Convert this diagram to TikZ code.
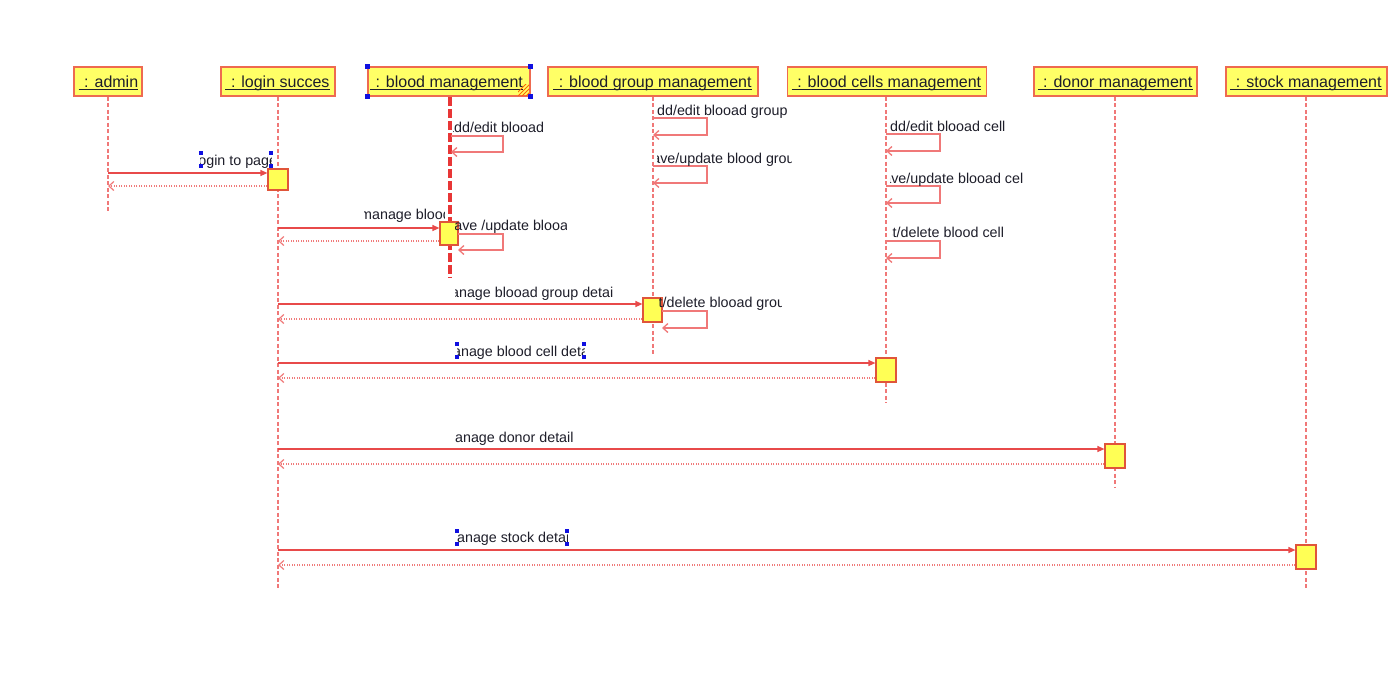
\documentclass[tikz,border=0pt]{standalone}
\usepackage{fontspec}
\usetikzlibrary{arrows.meta}
\newfontfamily\lsans{Liberation Sans}
\definecolor{hdrfill}{HTML}{FFFF66}
\definecolor{hdrdraw}{HTML}{EE6A50}
\definecolor{lifec}{HTML}{F07878}
\definecolor{msgc}{HTML}{E84A4A}
\definecolor{thickc}{HTML}{E83636}
\definecolor{retc}{HTML}{F07A7A}
\definecolor{actfill}{HTML}{FFFF55}
\definecolor{actdraw}{HTML}{E0553A}
\definecolor{txtc}{HTML}{1E1E2A}
\definecolor{handc}{HTML}{1010E0}
\tikzset{
  hdr/.style={draw=hdrdraw, line width=1.6pt, fill=hdrfill, minimum height=29, inner sep=0pt, text=txtc, font=\lsans\fontsize{16}{18}\selectfont},
  lifeline/.style={draw=lifec, line width=1.3pt, dash pattern=on 4pt off 2.5pt},
  thicklife/.style={draw=thickc, line width=3.2pt, dash pattern=on 9pt off 3pt},
  actbox/.style={draw=actdraw, line width=1.2pt, fill=actfill, inner sep=0pt},
  syncmsg/.style={draw=msgc, line width=1.2pt, -{Triangle[length=7pt,width=6pt]}},
  retmsg/.style={draw=retc, line width=1.2pt, dash pattern=on 1.3pt off 1.2pt, -{Straight Barb[length=5pt,width=9pt]}},
  selfmsg/.style={draw=lifec, line width=1.3pt, -{Straight Barb[length=5pt,width=9pt]}},
  lbl/.style={inner sep=0pt, text=txtc, font=\lsans\fontsize{14.3}{16}\selectfont},
  handle/.style={fill=handc, draw=none, minimum size=4pt, inner sep=0pt}
}
% #1 clip left, #2 clip right, #3 centre y, #4 text start x, #5 text, #6 name
\newcommand\msglabel[6]{%
  \begin{scope}
    \clip (#1,#3-9) rectangle (#2,#3+9);
    \node[lbl, anchor=base west] (#6) at (#4,#3+5) {#5};
  \end{scope}}
\newcommand\hdrline[1]{%
  \draw[txtc, line width=0.8pt] ([xshift=-1pt,yshift=-2pt]#1.base west) -- ([yshift=-2pt]#1.base east);}
\begin{document}
\begin{tikzpicture}[x=1pt,y=-1pt]
\useasboundingbox[fill=white] (0,0) rectangle (1398,694);

% headers
\node[hdr, minimum width=68] (admin) at (108,81.5) {};
\node[hdr, minimum width=114] (login) at (278,81.5) {};
\node[hdr, minimum width=162] (bm) at (449,81.5) {};
\node[hdr, minimum width=210] (bgm) at (653,81.5) {};
\node[hdr, minimum width=199] (bcm) at (887,81.5) {};
\node[hdr, minimum width=163] (dm) at (1115.5,81.5) {};
\node[hdr, minimum width=161] (sm) at (1306.5,81.5) {};

\node[lbl, font=\lsans\fontsize{16}{18}\selectfont, anchor=base] (tadmin) at (109,87) {\ : admin};
\node[lbl, font=\lsans\fontsize{16}{18}\selectfont, anchor=base] (tlogin) at (278,87) {\ : login succes};
\node[lbl, font=\lsans\fontsize{16}{18}\selectfont, anchor=base] (tbm) at (447,87) {\ : blood management};
\node[lbl, font=\lsans\fontsize{16}{18}\selectfont, anchor=base] (tbgm) at (653,87) {\ : blood group management};
\node[lbl, font=\lsans\fontsize{16}{18}\selectfont, anchor=base] (tbcm) at (887,87) {\ : blood cells management};
\node[lbl, font=\lsans\fontsize{16}{18}\selectfont, anchor=base] (tdm) at (1115.5,87) {\ : donor management};
\node[lbl, font=\lsans\fontsize{16}{18}\selectfont, anchor=base] (tsm) at (1306.5,87) {\ : stock management};
\hdrline{tadmin}\hdrline{tlogin}\hdrline{tbm}\hdrline{tbgm}\hdrline{tbcm}\hdrline{tdm}\hdrline{tsm}

% selection handles and hatch on blood management
\node[handle, minimum size=5pt] (h1) at (bm.north west) {};
\node[handle, minimum size=5pt] (h2) at (bm.north east) {};
\node[handle, minimum size=5pt] (h3) at (bm.south west) {};
\node[handle, minimum size=5pt] (h4) at (bm.south east) {};
\begin{scope}
  \clip (518,84) rectangle (529,95);
  \foreach \d in {0,4,8,12,16}{\draw[orange!80!red, line width=0.8pt] (514+\d,96) -- (530+\d,80);}
\end{scope}

% lifeline ends
\coordinate (eadmin) at (108,212);
\coordinate (elogin) at (278,590);
\coordinate (ebm) at (450,278);
\coordinate (ebgm) at (653,355);
\coordinate (ebcm) at (886,403);
\coordinate (edm) at (1115,488);
\coordinate (esm) at (1306,590);

\draw[lifeline] (admin.south) -- (eadmin);
\draw[lifeline] (login.south) -- (elogin);
\draw[thicklife] ([xshift=1pt]bm.south) -- (ebm);
\draw[lifeline] (bgm.south) -- (ebgm);
\draw[lifeline] ([xshift=-1pt]bcm.south) -- (ebcm);
\draw[lifeline] ([xshift=-0.5pt]dm.south) -- (edm);
\draw[lifeline] ([xshift=-0.5pt]sm.south) -- (esm);

% activation boxes
\node[actbox, minimum width=20, minimum height=21] (a1) at (278,179.5) {};
\node[actbox, minimum width=18, minimum height=23] (a2) at (449,233.5) {};
\node[actbox, minimum width=19, minimum height=24] (a3) at (652.5,310) {};
\node[actbox, minimum width=20, minimum height=24] (a4) at (886,370) {};
\node[actbox, minimum width=20, minimum height=24] (a5) at (1115,456) {};
\node[actbox, minimum width=20, minimum height=24] (a6) at (1306,557) {};

% message start points on lifelines
\coordinate (m1s) at (108,173);  \coordinate (r1e) at (108,186);
\coordinate (m2s) at (278,228);  \coordinate (r2e) at (278,241);
\coordinate (m3s) at (278,304);  \coordinate (r3e) at (278,319);
\coordinate (m4s) at (278,363);  \coordinate (r4e) at (278,378);
\coordinate (m5s) at (278,449);  \coordinate (r5e) at (278,464);
\coordinate (m6s) at (278,550);  \coordinate (r6e) at (278,565);

\draw[syncmsg] (m1s) -- (a1.west |- m1s);
\draw[retmsg] (a1.west |- r1e) -- (r1e);
\draw[syncmsg] (m2s) -- (a2.west |- m2s);
\draw[retmsg] (a2.west |- r2e) -- (r2e);
\draw[syncmsg] (m3s) -- (a3.west |- m3s);
\draw[retmsg] (a3.west |- r3e) -- (r3e);
\draw[syncmsg] (m4s) -- (a4.west |- m4s);
\draw[retmsg] (a4.west |- r4e) -- (r4e);
\draw[syncmsg] (m5s) -- (a5.west |- m5s);
\draw[retmsg] (a5.west |- r5e) -- (r5e);
\draw[syncmsg] (m6s) -- (a6.west |- m6s);
\draw[retmsg] (a6.west |- r6e) -- (r6e);

% self messages
\coordinate (s1a) at (451,136); \coordinate (s1b) at (451,152);
\draw[selfmsg] (s1a) -- ++(52,0) |- (s1b);
\coordinate (s2a) at (458,234); \coordinate (s2b) at (458,250);
\draw[selfmsg] (s2a) -- ++(45,0) |- (s2b);
\coordinate (s3a) at (653,118); \coordinate (s3b) at (653,135);
\draw[selfmsg] (s3a) -- ++(54,0) |- (s3b);
\coordinate (s4a) at (653,166); \coordinate (s4b) at (653,183);
\draw[selfmsg] (s4a) -- ++(54,0) |- (s4b);
\coordinate (s5a) at (662,311); \coordinate (s5b) at (662,328);
\draw[selfmsg] (s5a) -- ++(45,0) |- (s5b);
\coordinate (s6a) at (886,134); \coordinate (s6b) at (886,151);
\draw[selfmsg] (s6a) -- ++(54,0) |- (s6b);
\coordinate (s7a) at (886,186); \coordinate (s7b) at (886,203);
\draw[selfmsg] (s7a) -- ++(54,0) |- (s7b);
\coordinate (s8a) at (886,241); \coordinate (s8b) at (886,258);
\draw[selfmsg] (s8a) -- ++(54,0) |- (s8b);

% labels (clipped as in the picture)
\msglabel{200}{271}{160}{195}{login to page}{l1}
\msglabel{364}{444}{214}{360}{manage blood}{l2}
\msglabel{453}{543}{127}{446}{add/edit blooad}{l3}
\msglabel{455}{566}{225}{447}{save /update blooad}{l4}
\msglabel{657}{786}{110}{649}{add/edit blooad group}{l5}
\msglabel{657}{791}{158}{645}{save/update blood group}{l6}
\msglabel{455}{612}{292}{439}{manage blooad group detail}{l7}
\msglabel{659}{781}{302}{645}{list/delete blooad group}{l8}
\msglabel{457}{584}{351}{441}{manage blood cell detail}{l9}
\msglabel{890}{1008}{126}{882}{add/edit blooad cell}{l10}
\msglabel{890}{1022}{178}{876}{save/update blooad cell}{l11}
\msglabel{892}{1010}{232}{879}{list/delete blood cell}{l12}
\msglabel{455}{580}{437}{443}{manage donor detail}{l13}
\msglabel{457}{567}{537}{445}{manage stock detail}{l14}

% selection handles on labels
\foreach \p/\q in {201/153, 201/166, 271/153, 271/166, 457/344, 457/357, 584/344, 584/357, 457/531, 457/544, 567/531, 567/544}{
  \node[handle] at (\p,\q) {};
}
\end{tikzpicture}
\end{document}
